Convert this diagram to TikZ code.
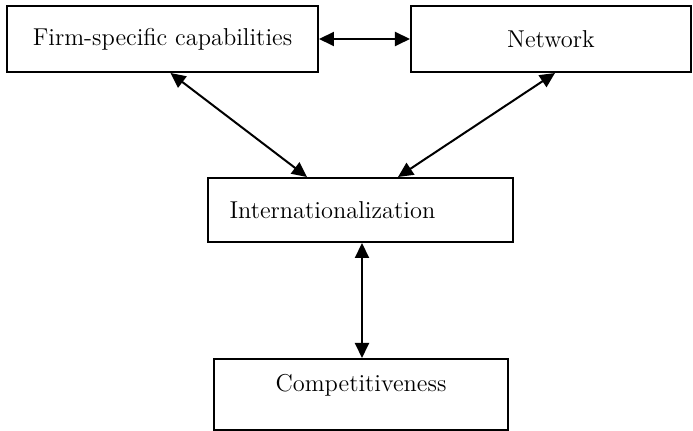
\documentclass[tikz,border=0pt]{standalone}
\usetikzlibrary{arrows.meta}
\tikzset{
	block/.style = {draw, line width=1pt, font=\fontsize{12.2}{14}\selectfont, inner sep=0pt},
	link/.style = {{Triangle[length=7.5pt, width=7pt]}-{Triangle[length=7.5pt, width=7pt]}, line width=1pt}
}

\begin{document}
\begin{tikzpicture}[x=0.5pt, y=-0.5pt]
					\useasboundingbox (0,0) rectangle (693,431);
					% boxes
					\node[block, minimum width=155.5pt, minimum height=33pt] (firm) at (162.5,39) {Firm-specific capabilities};
					\node[block, minimum width=140pt, minimum height=33pt] (network) at (551,39) {Network};
					\node[block, minimum width=152.5pt, minimum height=32pt, text width=131pt, align=left, inner xsep=10.5pt] (intl) at (360.5,210) {Internationalization};
					\node[block, minimum width=147pt, minimum height=35.5pt, text height=8pt, text depth=11pt] (comp) at (361,394.5) {Competitiveness};
					% links
					\draw[link] (firm.east) -- (network.west);
					\draw[link] ([xshift=4pt]firm.south) -- ([xshift=-26.75pt]intl.north);
					\draw[link] ([xshift=2pt]network.south) -- ([xshift=18.75pt]intl.north);
					\draw[link] ([xshift=0.75pt]intl.south) -- ([xshift=0.5pt]comp.north);
				\end{tikzpicture}
\end{document}
